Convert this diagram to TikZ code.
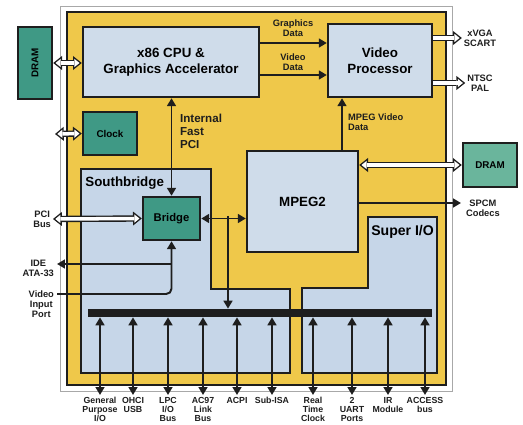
\documentclass[tikz,border=0pt]{standalone}
\usepackage{fontspec}
\setmainfont{Liberation Sans}
\setsansfont{Liberation Sans}
\usepackage{tikz}
\usetikzlibrary{arrows.meta, positioning, calc}
\definecolor{chipYellow}{HTML}{EFC84A}
\definecolor{chipBlue}{HTML}{CFDCEA}
\definecolor{chipSky}{HTML}{C6D6E8}
\definecolor{chipTeal}{HTML}{3F9985}
\definecolor{chipMint}{HTML}{6AB59C}
\definecolor{chipInk}{HTML}{1E1E1E}
\definecolor{chipGrey}{HTML}{A8A8A8}
\tikzset{
  Fout/.tip={Triangle[length=5pt, width=8pt, line width=0pt]},
  Fin/.tip={Triangle[length=2.9pt, width=4.7pt, line width=0pt]}
}

\begin{document}
\begin{tikzpicture}[x=0.02cm, y=-0.02cm,
  chip/.style={draw=chipInk, line width=1.4pt, fill=chipBlue, inner sep=1pt, align=center,
               font=\sffamily\bfseries\fontsize{7.6}{9}\selectfont},
  part/.style={chip, fill=chipTeal, font=\sffamily\bfseries\fontsize{5.6}{6}\selectfont},
  region/.style={draw=chipInk, line width=0.9pt, fill=chipSky},
  lbl/.style={font=\sffamily\bfseries\fontsize{5.3}{5.7}\selectfont, align=center, inner sep=1pt, text=chipInk},
  pin/.style={lbl, font=\sffamily\bfseries\fontsize{5}{5.2}\selectfont, anchor=north},
  arr/.style={line width=1.1pt, draw=chipInk, >={Triangle[length=4.5pt, width=5pt]}},
  fatpre/.style={draw=chipInk, line width=3.6pt, shorten <=0pt, shorten >=0pt},
  fatboth/.style={draw=white, line width=2pt, Fin-Fin, shorten <=1.3pt, shorten >=1.3pt,
                  preaction={fatpre, Fout-Fout}},
  fatright/.style={draw=white, line width=2pt, -Fin, shorten >=1.3pt,
                   preaction={fatpre, -Fout}}
]
\useasboundingbox (0,0) rectangle (523,425);
\fill[white] (0,0) rectangle (523,425);

% frame
\draw[chipGrey, line width=0.5pt] (60,6) rectangle (452,391);
\draw[chipInk, line width=1.3pt, fill=chipYellow] (67,12) rectangle (446,385);

% southbridge and super i/o areas
\draw[region] (81,169) -- (211,169) -- (211,289) -- (290,289) -- (290,373) -- (81,373) -- cycle;
\draw[region] (368,217) -- (437,217) -- (437,373) -- (302,373) -- (302,288) -- (368,288) -- cycle;
\node[anchor=west, font=\sffamily\bfseries\fontsize{7.6}{9}\selectfont, inner sep=0pt] (sbtitle) at (85,183) {Southbridge};
\node[anchor=west, font=\sffamily\bfseries\fontsize{8}{9}\selectfont, inner sep=0pt] (siotitle) at (371,232) {Super I/O};

% chips
\node[chip, minimum width=3.52cm, minimum height=1.4cm] (cpu) at (171,62) {x86 CPU \&\\Graphics Accelerator};
\node[chip, minimum width=2.08cm, minimum height=1.46cm] (vp) at (380,60.5) {Video\\Processor};
\node[chip, minimum width=2.22cm, minimum height=2.02cm] (mpeg) at (302.5,201.5) {MPEG2};
\node[part, minimum width=0.68cm, minimum height=1.44cm] (dramL) at (35,63) {};
\node[font=\sffamily\bfseries\fontsize{5.6}{6}\selectfont, rotate=90] at (dramL) {DRAM};
\node[part, minimum width=1.08cm, minimum height=0.86cm] (clock) at (110,133.5) {Clock};
\node[part, minimum width=1.14cm, minimum height=0.86cm, font=\sffamily\bfseries\fontsize{6.4}{7}\selectfont] (bridge) at (171.5,218.5) {Bridge};
\node[part, fill=chipMint, minimum width=1.08cm, minimum height=0.88cm] (dramR) at (490,165) {DRAM};
\node[fill=chipInk, minimum width=6.88cm, minimum height=0.16cm, inner sep=0pt] (bus) at (260,313) {};

% labels
\node[lbl] (gdata) at (293,28.5) {Graphics\\Data};
\node[lbl] (vdata) at (293,62) {Video\\Data};
\node[lbl] (xvga) at (480,38) {xVGA\\SCART};
\node[lbl] (ntsc) at (480,83) {NTSC\\PAL};
\node[lbl, anchor=west] (pcm) at (464,208) {SPCM\\Codecs};
\node[lbl, anchor=west, align=left, font=\sffamily\bfseries\fontsize{6.6}{7.4}\selectfont] (ipci) at (178,131) {Internal\\Fast\\PCI};
\node[lbl, anchor=west, align=left] (mvd) at (346,122) {MPEG Video\\Data};
\node[lbl, anchor=east] (pcibus) at (53,219) {PCI\\Bus};
\node[lbl, anchor=north east] (ide) at (56,258) {IDE\\ATA-33};
\node[lbl, anchor=north east] (vip) at (56,289) {Video\\Input\\Port};

\coordinate (gd) at (300,43);
\coordinate (vd) at (300,75);
\coordinate (clkin) at (55,134);
\coordinate (pcmin) at (461,203);
\coordinate (idept) at (57,264);
\coordinate (vin) at (57,294);
\coordinate (tap) at (228,216);

% wide buses
\draw[fatboth] (dramL.east) -- (dramL.east -| cpu.west);
\draw[fatboth] (clkin) -- (clock.west);
\draw[fatboth] (pcibus.east) -- (bridge.west);
\draw[fatboth] (dramR.west -| mpeg.east) -- (dramR.west);
\draw[fatright] (xvga.west -| vp.east) -- (xvga.west);
\draw[fatright] (ntsc.west -| vp.east) -- (ntsc.west);

% signals
\draw[arr, ->] (gd -| cpu.east) -- (gd -| vp.west);
\draw[arr, ->] (vd -| cpu.east) -- (vd -| vp.west);
\draw[arr, <->] (bridge.north) -- (bridge.north |- cpu.south);
\draw[arr, ->] (mpeg.north -| mvd.west) ++(-4,0) coordinate (mv) -- (mv |- vp.south);
\draw[arr, ->] (pcmin -| mpeg.east) -- (pcmin);
\draw[arr, <->] (bridge.east) -- (bridge.east -| mpeg.west);
\draw[arr, ->] (tap) -- (tap |- bus.north);
\draw[arr, ->] (bridge.south |- idept) -- (idept);
\draw[arr, ->, rounded corners=3pt] (vin) -| (bridge.south);

% peripheral pins
\foreach \x/\nm/\txt in {100/gpio/{General\\Purpose\\I/O}, 133/usb/{OHCI\\USB}, 168/lpc/{LPC\\I/O\\Bus},
    203/ac97/{AC97\\Link\\Bus}, 237/acpi/{ACPI}, 272/isa/{Sub-ISA}, 313/rtc/{Real\\Time\\Clock},
    352/uart/{2\\UART\\Ports}, 388/ir/{IR\\Module}, 425/acb/{ACCESS\\bus}}{
  \node[pin] (\nm) at (\x,395) {\txt};
  \draw[arr, <->] (\nm.north) -- (\nm.north |- bus.south);
}
\end{tikzpicture}
\end{document}
